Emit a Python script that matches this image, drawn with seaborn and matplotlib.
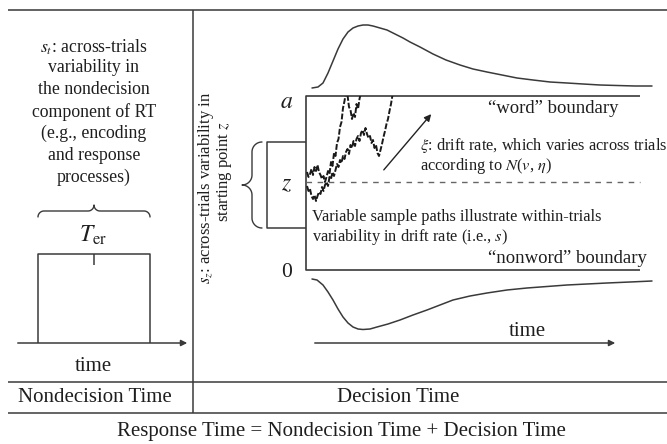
import numpy as np
import matplotlib
matplotlib.use("Agg")
import matplotlib.pyplot as plt
from matplotlib.patches import Rectangle
import seaborn as sns

# ---- data (pixel space of a 667x444 canvas) ----
left_lines = ["$s_t$: across-trials", "variability in", "the nondecision",
              "component of RT", "(e.g., encoding", "and response", "processes)"]
left_lines_y = [47, 68, 90, 112, 133, 155, 177]

top_density_x = [312, 318, 323, 328, 333, 338, 343, 348, 353, 358, 363, 368, 373, 380, 387,
                 395, 403, 410, 420, 433, 446, 460, 473, 487, 502, 517, 533, 550, 567, 583,
                 600, 617, 635, 652]
top_density_y = [88, 87, 83, 73, 61, 49, 39, 32, 28, 26, 25, 25, 26, 28, 30,
                 34, 38, 42, 47, 54, 60, 65, 69, 72, 75, 78, 80, 82, 83, 84,
                 85, 85.5, 86, 86]

bottom_density_x = [312, 317, 323, 328, 333, 338, 343, 348, 353, 358, 363, 370, 377, 388, 400,
                    413, 427, 440, 453, 470, 487, 507, 527, 547, 567, 587, 607, 630, 652]
bottom_density_y = [279, 280, 285, 292, 300, 309, 317, 323, 327, 329, 329.5, 329, 327, 324, 320,
                    315, 310, 305, 300, 296, 293, 290, 288, 286.5, 285, 284, 283, 282, 281]

path_a_x = [307, 308.5, 310, 311.5, 313, 314.5, 316, 317.5, 319, 320.5, 322, 323.5, 325, 326.5,
            328, 329.5, 331, 332.5, 334, 335.5, 337, 338.5, 340, 341.5, 343, 344.5, 346, 347.5,
            349, 350.5, 352, 353.5, 355, 356.5, 358, 359.5, 361]
path_a_y = [172, 177, 174, 169, 175, 167, 171, 165, 172, 175, 179, 176, 182, 177,
            171, 174, 162, 166, 153, 156, 143, 139, 127, 122, 108, 101, 92, 95,
            107, 110, 119, 113, 117, 104, 109, 99, 92]

path_b_x = [307, 308.5, 310, 311.5, 313, 314.5, 316, 317.5, 319, 320.5, 322, 323.5, 325, 326.5,
            328, 329.5, 331, 332.5, 334, 335.5, 337, 338.5, 340, 341.5, 343, 344.5, 346, 347.5,
            349, 350.5, 352, 353.5, 355, 356.5, 358, 359.5, 361, 362.5, 364, 365.5, 367, 368.5,
            370, 371.5, 373, 374.5, 376, 377.5, 379, 380.5, 382, 383.5, 385, 386.5, 388, 389.5,
            391, 392.5]
path_b_y = [186, 191, 189, 196, 199, 195, 201, 196, 192, 194, 187, 191, 185, 182,
            186, 177, 179, 172, 176, 170, 164, 167, 160, 163, 156, 159, 152, 149,
            154, 145, 148, 141, 146, 139, 136, 141, 133, 130, 135, 128, 134, 138,
            136, 143, 140, 148, 145, 153, 156, 150, 144, 137, 131, 124, 119, 111,
            104, 95]

LINE = "#3a3a3a"
TXT = "#1e1e1e"

sns.set_theme(style="white")
plt.rcParams["font.family"] = ["Liberation Serif", "DejaVu Serif"]
plt.rcParams["mathtext.fontset"] = "stix"

fig = plt.figure(figsize=(6.67, 4.44), dpi=100)
ax = fig.add_axes([0, 0, 1, 1])
ax.set_xlim(0, 667)
ax.set_ylim(444, 0)
ax.axis("off")


def seg(xs, ys, lw=1.1, color=LINE, **kw):
    ax.plot(xs, ys, color=color, lw=lw, solid_capstyle="butt", **kw)


def brace(x0, x1, base, h, vertical=False):
    # curly brace built from quarter arcs; tip points away from base by h
    L = x1 - x0
    r = h / 2
    t = np.linspace(0, np.pi / 2, 20)
    u1 = r - r * np.cos(t); v1 = r * np.sin(t)
    u2 = L / 2 - r + r * np.sin(t); v2 = 2 * r - r * np.cos(t)
    u = np.concatenate([u1, u2]); v = np.concatenate([v1, v2])
    u = np.concatenate([u, (L - u)[::-1]]); v = np.concatenate([v, v[::-1]])
    if vertical:
        ax.plot(base - v, x0 + u, color=LINE, lw=1.0)
    else:
        ax.plot(x0 + u, base - v, color=LINE, lw=1.0)


# frame lines of the table
seg([8, 667], [10, 10], lw=1.3, color="#555555")
seg([8, 667], [382, 382], lw=1.1)
seg([8, 667], [413, 413], lw=1.1)
seg([193, 193], [10, 413], lw=1.1)

# ---- left panel ----
for txt, y in zip(left_lines, left_lines_y):
    ax.text(94, y, txt, ha="center", va="center", fontsize=12.8, color=TXT)
brace(38, 150, 217, 12)
ax.text(93, 235, "$T_{\\mathrm{er}}$", ha="center", va="center", fontsize=17, color=TXT)
seg([38, 38, 150, 150], [343, 254, 254, 343])
seg([94, 94], [254, 265])
ax.annotate("", xy=(190, 343), xytext=(15, 343),
            arrowprops=dict(arrowstyle="-|>", color=LINE, lw=1.1, mutation_scale=9))
ax.text(93, 366, "time", ha="center", va="center", fontsize=15, color=TXT)

# ---- decision panel ----
ax.text(206, 188, "$s_z$: across-trials variability in", rotation=90, ha="center",
        va="center", fontsize=12, color=TXT)
ax.text(224, 172, "starting point $z$", rotation=90, ha="center", va="center",
        fontsize=12, color=TXT)
brace(142, 228, 262, 20, vertical=True)
seg([306, 267, 267, 306], [142, 142, 228, 228])
ax.text(287, 185, "$z$", ha="center", va="center", fontsize=17, color=TXT)
ax.text(287, 102, "$a$", ha="center", va="center", fontsize=17, color=TXT)
ax.text(287, 272, "0", ha="center", va="center", fontsize=15.5, color=TXT)

seg([640, 306, 306, 640], [96, 96, 270, 270], lw=1.2)
ax.plot([306, 640], [182, 182], color="#666666", lw=1.0, ls=(0, (4, 4)))

sns.lineplot(x=top_density_x, y=top_density_y, sort=False, estimator=None,
             color=LINE, lw=1.1, ax=ax)
sns.lineplot(x=bottom_density_x, y=bottom_density_y, sort=False, estimator=None,
             color=LINE, lw=1.1, ax=ax)

clip = Rectangle((306, 96), 334, 174, transform=ax.transData)
for px, py in [(path_a_x, path_a_y), (path_b_x, path_b_y)]:
    sns.lineplot(x=px, y=py, sort=False, estimator=None, color="#1a1a1a", lw=1.4,
                 ls=(0, (3, 1)), ax=ax)
    ax.lines[-1].set_clip_path(clip)

ax.annotate("", xy=(433, 112), xytext=(382, 172),
            arrowprops=dict(arrowstyle="-|>", color="#222222", lw=1.0, mutation_scale=10))

ax.text(553, 108, "\u201cword\u201d boundary", ha="center", va="center", fontsize=13.5, color=TXT)
ax.text(567, 258, "\u201cnonword\u201d boundary", ha="center", va="center", fontsize=13.5, color=TXT)
ax.text(420, 145, "$\\xi$: drift rate, which varies across trials", ha="left", va="center",
        fontsize=11.8, color=TXT)
ax.text(420, 166, "according to $N$($v$, $\\eta$)", ha="left", va="center",
        fontsize=11.8, color=TXT)
ax.text(312, 217, "Variable sample paths illustrate within-trials", ha="left",
        va="center", fontsize=11.8, color=TXT)
ax.text(312, 237, "variability in drift rate (i.e., $s$)", ha="left", va="center",
        fontsize=11.8, color=TXT)

ax.annotate("", xy=(618, 343), xytext=(312, 343),
            arrowprops=dict(arrowstyle="-|>", color=LINE, lw=1.1, mutation_scale=9))
ax.text(527, 331, "time", ha="center", va="center", fontsize=15, color=TXT)

# ---- bottom labels ----
ax.text(95, 397, "Nondecision Time", ha="center", va="center", fontsize=15, color=TXT)
ax.text(398, 397, "Decision Time", ha="center", va="center", fontsize=15, color=TXT)
ax.text(341, 431, "Response Time = Nondecision Time + Decision Time", ha="center",
        va="center", fontsize=15, color=TXT)

fig.savefig("out.png", dpi=100)
